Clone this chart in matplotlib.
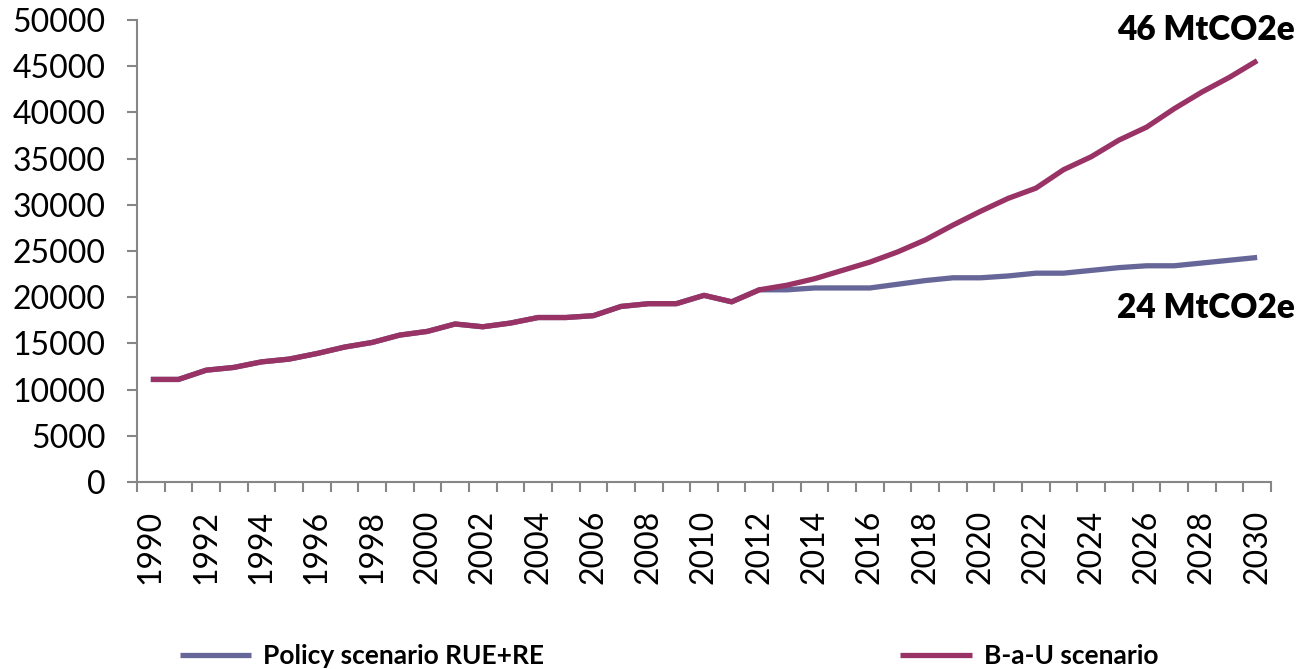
import numpy as np
import matplotlib
matplotlib.use("Agg")
import matplotlib.pyplot as plt

plt.rcParams['font.family'] = ['Lato', 'DejaVu Sans']

years = np.arange(1990, 2031)

# emissions, historic part shared by both scenarios (1990-2012)
hist = [11100, 11100, 12100, 12400, 13000, 13300, 13900, 14600, 15100, 15900,
        16300, 17100, 16800, 17200, 17800, 17800, 18000, 19000, 19300, 19300,
        20200, 19500, 20800]
# policy scenario RUE+RE, 2013-2030
policy_future = [20800, 21000, 21000, 21000, 21400, 21800, 22100, 22100, 22300,
                 22600, 22600, 22900, 23200, 23400, 23400, 23700, 24000, 24300]
# business as usual, 2013-2030
bau_future = [21300, 22000, 22900, 23800, 24900, 26200, 27800, 29300, 30700,
              31800, 33800, 35200, 37000, 38400, 40400, 42200, 43800, 45600]

policy = hist + policy_future
bau = hist + bau_future

label_policy = 'Policy scenario RUE+RE'
label_bau = 'B-a-U scenario'
note_bau = '46 MtCO2e'
note_policy = '24 MtCO2e'

c_policy = '#666699'
c_bau = '#993366'
gray = '#868686'

fig = plt.figure(figsize=(12.99, 6.69), dpi=100)
ax = fig.add_axes([137/1299, 1 - 482/669, (1271 - 137)/1299, 462/669])

ax.plot(years, policy, color=c_policy, lw=3.8, label=label_policy, solid_capstyle='butt')
ax.plot(years, bau, color=c_bau, lw=3.8, label=label_bau, solid_capstyle='butt')

ax.set_xlim(1989.5, 2030.5)
ax.set_ylim(0, 50000)
ax.set_yticks(np.arange(0, 50001, 5000))
ax.set_xticks(years[::2])
ax.set_xticks(np.arange(1989.5, 2031, 1), minor=True)
ax.tick_params(axis='x', which='major', length=0, pad=20, labelsize=23, labelrotation=90)
ax.tick_params(axis='x', which='minor', length=7.5, width=1.5, color=gray, direction='out')
ax.tick_params(axis='y', which='major', length=7.5, width=1.5, color=gray, pad=15, labelsize=23)

for s in ['top', 'right']:
    ax.spines[s].set_visible(False)
for s in ['left', 'bottom']:
    ax.spines[s].set_color(gray)
    ax.spines[s].set_linewidth(1.5)

fig.text(0.997, 0.955, note_bau, ha='right', va='center', fontsize=24, fontweight='heavy')
fig.text(0.997, 0.540, note_policy, ha='right', va='center', fontsize=24, fontweight='heavy')

leg = fig.legend(loc='center left', bbox_to_anchor=(180/1299, 13/669), ncol=2,
                 frameon=False, borderpad=0, borderaxespad=0, handlelength=2.7,
                 handletextpad=0.45, columnspacing=13.5,
                 prop={'size': 19, 'weight': 'bold'})

fig.savefig('out.png', dpi=100)
